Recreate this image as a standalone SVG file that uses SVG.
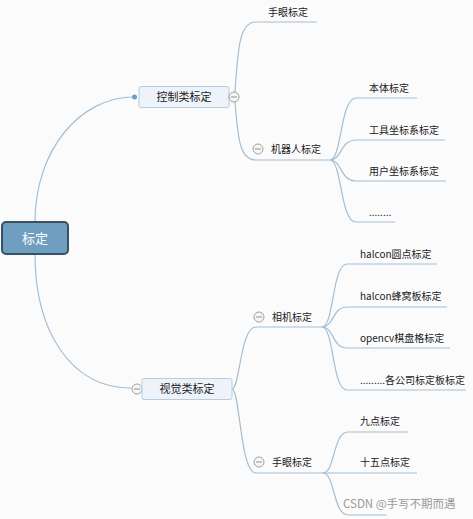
<svg xmlns="http://www.w3.org/2000/svg" width="473" height="519" viewBox="0 0 473 519">
<style>
.ln{fill:none;stroke:#a3bfd4;stroke-width:1.2}
.t{font-family:"Microsoft YaHei","Noto Sans CJK SC",sans-serif;font-size:10px;fill:#1a1a1a}
.mt{font-family:"Microsoft YaHei","Noto Sans CJK SC",sans-serif;font-size:11px;fill:#1a1a1a;text-anchor:middle}
.mb{fill:#edf3f8;stroke:#b5cde0;stroke-width:1}
.col{fill:#f6f6f6;stroke:#a0a0a0;stroke-width:1}
.colm{stroke:#909090;stroke-width:1}
</style>
<rect width="473" height="519" fill="#fbfbfc"/>
<g id="connectors">
<path class="ln" d="M35,222 C35,150 80,97 134,97"/>
<path class="ln" d="M35,254 C35,330 70,388 131,388"/>
<path class="ln" d="M235,92 C238,45 240,22 256,22 L317,22"/>
<path class="ln" d="M235,102 C238,140 240,160 256,160 L330,160"/>
<path class="ln" d="M330,160 C342,160 340,98 356,98 L417,98"/>
<path class="ln" d="M330,160 C342,160 340,140 356,140 L445,140"/>
<path class="ln" d="M330,160 C342,160 340,181 356,181 L446,181"/>
<path class="ln" d="M330,160 C342,160 340,222 356,222 L395,222"/>
<path class="ln" d="M232,389 C240,389 240,327 256,327 L322,327"/>
<path class="ln" d="M232,389 C240,389 240,473 256,473 L323,473"/>
<path class="ln" d="M322,327 C334,327 332,264 347,264 L437,264"/>
<path class="ln" d="M322,327 C334,327 332,307 347,307 L447,307"/>
<path class="ln" d="M322,327 C334,327 332,348 347,348 L450,348"/>
<path class="ln" d="M322,327 C334,327 332,390 347,390 L466,390"/>
<path class="ln" d="M323,473 C335,473 333,432 348,432 L408,432"/>
<path class="ln" d="M323,473 C335,473 333,473 348,473 L417,473"/>
<path class="ln" d="M323,473 C335,473 333,515 348,515 L387,515"/>
</g>
<g id="root">
<rect x="2" y="222" width="66" height="32" rx="4" fill="#6e9ec0" stroke="#3a5164" stroke-width="2"/>
<text x="35" y="243" font-family="Microsoft YaHei,Noto Sans CJK SC,sans-serif" font-size="13" fill="#ffffff" text-anchor="middle">标定</text>
</g>
<g id="control">
<circle cx="134.5" cy="97" r="2.5" fill="#6e9ec0"/>
<rect class="mb" x="139" y="86.5" width="90" height="21" rx="2"/>
<text class="mt" x="184" y="101">控制类标定</text>
<circle class="col" cx="234" cy="97" r="5"/>
<line class="colm" x1="231" y1="97" x2="237" y2="97"/>
</g>
<g id="control-handeye"><text class="t" x="268" y="16">手眼标定</text></g>
<g id="robot">
<circle class="col" cx="258" cy="149" r="5"/>
<line class="colm" x1="255" y1="149" x2="261" y2="149"/>
<text class="t" x="271" y="153">机器人标定</text>
</g>
<g id="body"><text class="t" x="369" y="92">本体标定</text></g>
<g id="tool"><text class="t" x="369" y="134">工具坐标系标定</text></g>
<g id="user"><text class="t" x="369" y="175">用户坐标系标定</text></g>
<g id="robot-more"><text class="t" x="369" y="216">........</text></g>
<g id="vision">
<circle class="col" cx="137" cy="389" r="5"/>
<line class="colm" x1="134" y1="389" x2="140" y2="389"/>
<rect class="mb" x="142" y="378.5" width="90" height="21" rx="2"/>
<text class="mt" x="187" y="393">视觉类标定</text>
</g>
<g id="camera">
<circle class="col" cx="259" cy="317" r="5"/>
<line class="colm" x1="256" y1="317" x2="262" y2="317"/>
<text class="t" x="272" y="321">相机标定</text>
</g>
<g id="halcon-dot"><text class="t" x="360" y="258">halcon圆点标定</text></g>
<g id="halcon-honey"><text class="t" x="360" y="300">halcon蜂窝板标定</text></g>
<g id="opencv"><text class="t" x="360" y="342">opencv棋盘格标定</text></g>
<g id="company"><text class="t" x="360" y="384">.........各公司标定板标定</text></g>
<g id="vision-handeye">
<circle class="col" cx="259" cy="462" r="5"/>
<line class="colm" x1="256" y1="462" x2="262" y2="462"/>
<text class="t" x="272" y="466">手眼标定</text>
</g>
<g id="nine"><text class="t" x="360" y="425">九点标定</text></g>
<g id="fifteen"><text class="t" x="360" y="466">十五点标定</text></g>
<text x="343" y="508" font-family="Microsoft YaHei,Noto Sans CJK SC,sans-serif" font-size="11.5" fill="#9a9a9a">CSDN @手写不期而遇</text>
</svg>
